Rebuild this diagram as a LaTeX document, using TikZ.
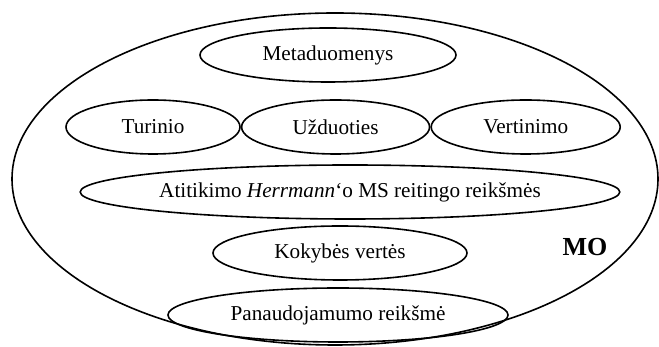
\documentclass[tikz,border=0pt]{standalone}
\usepackage{fontspec}
\setmainfont{Liberation Serif}
\usetikzlibrary{shapes.geometric, positioning}

\tikzset{
  sritis/.style={draw, ellipse, line width=0.8pt, inner sep=0pt,
    minimum height=27pt, font=\fontsize{10.6}{12}\selectfont},
}

\begin{document}
\begin{tikzpicture}[x=0.5pt, y=0.5pt]
    \useasboundingbox (0,0) rectangle (659,347);

    % išorinė elipsė -- mokymosi objektas
    \node[sritis, minimum width=323pt, minimum height=166pt] (mo) at (335,168) {};
    \node[font=\fontsize{13}{15}\selectfont\bfseries] (moLabel) at (585,100) {MO};

    \node[sritis, minimum width=128pt] (meta) at (328,292) {Metaduomenys};

    % trys elipsės vienoje eilėje, liečiasi
    \node[sritis, minimum width=87pt] (turinio) at (153,220) {Turinio};
    \node[sritis, minimum width=94pt, right=0pt of turinio] (uzduoties) {Užduoties};
    \node[sritis, minimum width=94.5pt, right=0pt of uzduoties] (vertinimo) {Vertinimo};

    \node[sritis, minimum width=268pt] (atitikimo) at (350,155)
      {Atitikimo \textit{Herrmann}‘o MS reitingo reikšmės};
    \node[sritis, minimum width=127pt] (kokybe) at (340,94) {Kokybės vertės};
    \node[sritis, minimum width=170pt] (panaudojamumas) at (338,32) {Panaudojamumo reikšmė};
\end{tikzpicture}
\end{document}
